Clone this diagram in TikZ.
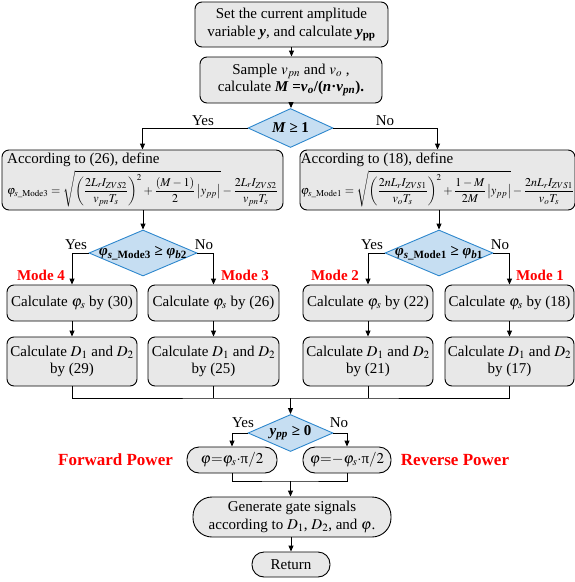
\documentclass[tikz,border=0pt]{standalone}
\usepackage{amsmath}
\usepackage{mathptmx}
\usepackage{fontspec}
\setmainfont{Liberation Serif}
\usetikzlibrary{shapes.geometric,arrows.meta,positioning}
\definecolor{boxgray}{RGB}{232,232,232}
\definecolor{decfill}{RGB}{198,222,242}
\definecolor{decline}{RGB}{45,135,205}
\tikzset{
    % 灰色圆角框
    procbox/.style={
        draw=black,
        line width=0.9pt,
        fill=boxgray,
        rounded corners=7pt,
        align=center,
        inner sep=0pt,
        font=\fontsize{15}{17.5}\selectfont
    },
    pillbox/.style={procbox, rounded corners=12pt},
    % 蓝色判断框
    decbox/.style={
        diamond,
        aspect=2.2,
        draw=decline,
        line width=0.9pt,
        fill=decfill,
        inner sep=0pt,
        font=\fontsize{15}{17}\selectfont\bfseries
    },
    flowline/.style={line width=0.9pt, black},
    flowarrow/.style={flowline, -{Triangle[length=6pt, width=5pt]}},
    yesno/.style={inner sep=0pt, font=\fontsize{15}{17}\selectfont},
    modelabel/.style={inner sep=0pt, text=red, font=\fontsize{15}{17}\selectfont\bfseries},
    powerlabel/.style={modelabel, font=\fontsize{17}{19}\selectfont\bfseries}
}
\begin{document}
\begin{tikzpicture}[x=1pt, y=-1pt]
    \useasboundingbox (0,0) rectangle (575,582);

    % ========== 上部 ==========
    \node[procbox, minimum width=193pt, minimum height=45pt] (setamp) at (291.5,24.5)
        {Set the current amplitude\\variable \textbf{\textit{y}}, and calculate \textbf{\textit{y}\textsubscript{pp}}};
    \node[procbox, minimum width=182pt, minimum height=46pt] (sample) at (291,80)
        {Sample $v_{pn}$ and $v_o$ ,\\calculate \textbf{\textit{M} =\textit{v}\textsubscript{\textit{o}}/(\textit{n}·\textit{v}\textsubscript{\textit{pn}}).}};
    \node[decbox, minimum width=85pt, minimum height=39pt] (chkM) at (290.5,128) {\textit{M} ≥ 1};

    % 两个定义框
    \node[procbox, minimum width=281pt, minimum height=60pt, align=left] (defL) at (142.5,180)
        {According to (26), define\\[3pt]
         \fontsize{12}{14}\selectfont
         $\displaystyle\varphi_{s\text{\_}\mathrm{Mode3}}=\sqrt{\left(\frac{2L_rI_{ZVS2}}{v_{pn}T_s}\right)^{2}+\frac{(M-1)}{2}\left|y_{pp}\right|}-\frac{2L_rI_{ZVS2}}{v_{pn}T_s}$};
    \node[procbox, minimum width=275pt, minimum height=60pt, align=left] (defR) at (437.5,180)
        {According to (18), define\\[3pt]
         \fontsize{12}{14}\selectfont
         $\displaystyle\varphi_{s\text{\_}\mathrm{Mode1}}=\sqrt{\left(\frac{2nL_rI_{ZVS1}}{v_oT_s}\right)^{2}+\frac{1-M}{2M}\left|y_{pp}\right|}-\frac{2nL_rI_{ZVS1}}{v_oT_s}$};

    % ========== 中部判断 ==========
    \node[decbox, minimum width=108pt, minimum height=46pt, inner xsep=-12pt] (chkL) at (143,253)
        {\textit{φ}\textsubscript{\textit{s}\_Mode3} ≥ \textit{φ}\textsubscript{\textit{b}2}};
    \node[decbox, minimum width=108pt, minimum height=46pt, inner xsep=-12pt] (chkR) at (439,253)
        {\textit{φ}\textsubscript{\textit{s}\_Mode1} ≥ \textit{φ}\textsubscript{\textit{b}1}};

    \node[procbox, minimum width=130pt, minimum height=36pt] (phiL1) at (72,303) {Calculate $\varphi_s$ by (30)};
    \node[procbox, minimum width=131pt, minimum height=36pt] (phiL2) at (213.5,303) {Calculate $\varphi_s$ by (26)};
    \node[procbox, minimum width=130pt, minimum height=36pt] (phiR1) at (368,303) {Calculate $\varphi_s$ by (22)};
    \node[procbox, minimum width=129pt, minimum height=36pt] (phiR2) at (509.5,303) {Calculate $\varphi_s$ by (18)};

    \node[procbox, minimum width=130pt, minimum height=49pt] (dutyL1) at (72,361.5) {Calculate $D_1$ and $D_2$\\by (29)};
    \node[procbox, minimum width=131pt, minimum height=49pt] (dutyL2) at (213.5,361.5) {Calculate $D_1$ and $D_2$\\by (25)};
    \node[procbox, minimum width=130pt, minimum height=49pt] (dutyR1) at (368,361.5) {Calculate $D_1$ and $D_2$\\by (21)};
    \node[procbox, minimum width=129pt, minimum height=49pt] (dutyR2) at (509.5,361.5) {Calculate $D_1$ and $D_2$\\by (17)};

    % ========== 下部 ==========
    \coordinate (joinA) at (290.5,398);
    \node[decbox, minimum width=85pt, minimum height=37pt] (chkY) at (290.5,433) {\textit{y}\textsubscript{\textit{pp}} ≥ 0};
    \node[pillbox, minimum width=90pt, minimum height=26pt] (fwd) at (232,460) {$\varphi{=}\varphi_s{\cdot}$π$/2$};
    \node[pillbox, minimum width=88pt, minimum height=26pt] (rev) at (347,460) {$\varphi{=}{-}\varphi_s{\cdot}$π$/2$};
    \coordinate (joinB) at (290.5,481);
    \node[procbox, rounded corners=19pt, minimum width=198pt, minimum height=40pt] (gate) at (292,517)
        {Generate gate signals\\according to $D_1$, $D_2$, and $\varphi$.};
    \node[pillbox, minimum width=78pt, minimum height=25pt] (ret) at (291,564.5) {Return};

    % 箭头
    \draw[flowarrow] (setamp.south) -- (setamp.south |- sample.north);
    \draw[flowarrow] (sample.south) -- (sample.south |- chkM.north);
    \draw[flowarrow] (chkM.west) -| (defL.north);
    \draw[flowarrow] (chkM.east) -| (defR.north);
    \draw[flowarrow] (defL.south) -- (defL.south -| chkL.north) -- (chkL.north);
    \draw[flowarrow] (defR.south -| chkR.north) -- (chkR.north);
    \draw[flowarrow] (chkL.west) -| (phiL1.north);
    \draw[flowarrow] (chkL.east) -| (phiL2.north);
    \draw[flowarrow] (chkR.west) -| (phiR1.north);
    \draw[flowarrow] (chkR.east) -| (phiR2.north);
    \foreach \a/\b in {phiL1/dutyL1, phiL2/dutyL2, phiR1/dutyR1, phiR2/dutyR2}
        \draw[flowarrow] (\a.south) -- (\b.north);
    \draw[flowline] (dutyL1.south) |- (joinA) -| (dutyR2.south);
    \draw[flowline] (dutyL2.south) -- (dutyL2.south |- joinA);
    \draw[flowline] (dutyR1.south) -- (dutyR1.south |- joinA);
    \draw[flowarrow] (joinA) -- (chkY.north);
    \draw[flowarrow] (chkY.west) -| (fwd.north);
    \draw[flowarrow] (chkY.east) -| (rev.north);
    \draw[flowline] (fwd.south) |- (joinB) -| (rev.south);
    \draw[flowarrow] (joinB) -- (joinB |- gate.north);
    \draw[flowarrow] (gate.south -| ret.north) -- (ret.north);

    % 文本标注
    \node[yesno] (yesM) at (203,121) {Yes};
    \node[yesno] (noM) at (385,121) {No};
    \node[yesno] (yesL) at (76,245) {Yes};
    \node[yesno] (noL) at (204,245) {No};
    \node[yesno] (yesR) at (372,245) {Yes};
    \node[yesno] (noR) at (500,245) {No};
    \node[yesno] (yesY) at (243,423) {Yes};
    \node[yesno] (noY) at (339,423) {No};

    \node[modelabel] (mode4) at (41,275) {Mode 4};
    \node[modelabel] (mode3) at (245,275) {Mode 3};
    \node[modelabel] (mode2) at (335,275) {Mode 2};
    \node[modelabel] (mode1) at (540,275) {Mode 1};
    \node[powerlabel] (fwdlab) at (115.5,460) {Forward Power};
    \node[powerlabel] (revlab) at (455,460) {Reverse Power};
\end{tikzpicture}
\end{document}
